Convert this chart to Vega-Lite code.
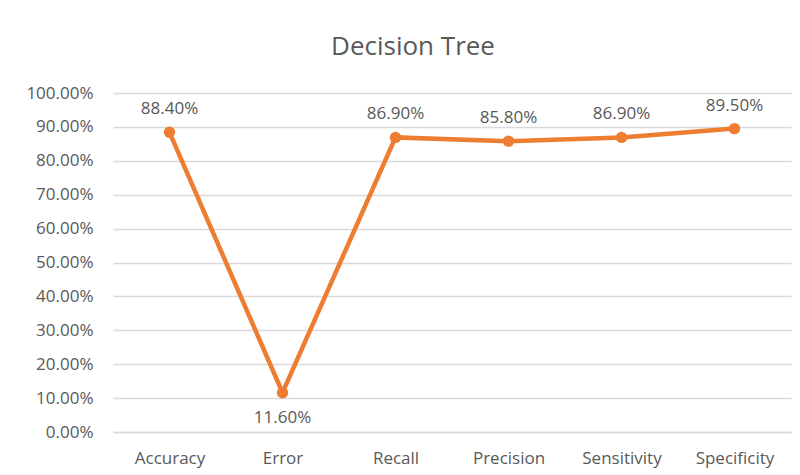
{
  "$schema": "https://vega.github.io/schema/vega-lite/v6.json",
  "width": 678,
  "height": 339,
  "autosize": {"type": "none"},
  "padding": {"left": 113, "top": 93, "right": 9, "bottom": 43},
  "background": "white",
  "config": {
    "view": {"stroke": null},
    "font": "Open Sans"
  },
  "title": {
    "text": "Decision Tree",
    "font": "Open Sans",
    "fontSize": 26,
    "fontWeight": "normal",
    "color": "#595959",
    "anchor": "middle",
    "dx": -39,
    "offset": 24
  },
  "data": {
    "values": [
      {"metric": "Accuracy", "value": 0.884},
      {"metric": "Error", "value": 0.116},
      {"metric": "Recall", "value": 0.869},
      {"metric": "Precision", "value": 0.858},
      {"metric": "Sensitivity", "value": 0.869},
      {"metric": "Specificity", "value": 0.895}
    ]
  },
  "encoding": {
    "x": {
      "field": "metric",
      "type": "nominal",
      "sort": null,
      "scale": {"paddingInner": 0, "paddingOuter": 0.5},
      "axis": {
        "title": null,
        "labelAngle": 0,
        "labelFont": "Open Sans",
        "labelFontSize": 17,
        "labelColor": "#595959",
        "labelPadding": 18,
        "ticks": false,
        "domainColor": "#d9d9d9",
        "domainWidth": 1.5,
        "grid": false
      }
    },
    "y": {
      "field": "value",
      "type": "quantitative",
      "scale": {"domain": [0, 1], "nice": false},
      "axis": {
        "title": null,
        "format": ".2%",
        "values": [0, 0.1, 0.2, 0.3, 0.4, 0.5, 0.6, 0.7, 0.8, 0.9, 1.0],
        "labelFont": "Open Sans",
        "labelFontSize": 17,
        "labelColor": "#595959",
        "labelPadding": 20,
        "ticks": false,
        "domain": false,
        "gridColor": "#d9d9d9",
        "gridWidth": 1.5
      }
    }
  },
  "layer": [
    {
      "mark": {"type": "line", "color": "#ED7D31", "strokeWidth": 4.5, "point": {"filled": true, "size": 130, "color": "#ED7D31"}}
    },
    {
      "transform": [{"filter": "datum.metric != 'Error'"}],
      "mark": {"type": "text", "dy": -23, "font": "Open Sans", "fontSize": 17, "color": "#595959"},
      "encoding": {"text": {"field": "value", "type": "quantitative", "format": ".2%"}}
    },
    {
      "transform": [{"filter": "datum.metric == 'Error'"}],
      "mark": {"type": "text", "dy": 25, "font": "Open Sans", "fontSize": 17, "color": "#595959"},
      "encoding": {"text": {"field": "value", "type": "quantitative", "format": ".2%"}}
    }
  ]
}
